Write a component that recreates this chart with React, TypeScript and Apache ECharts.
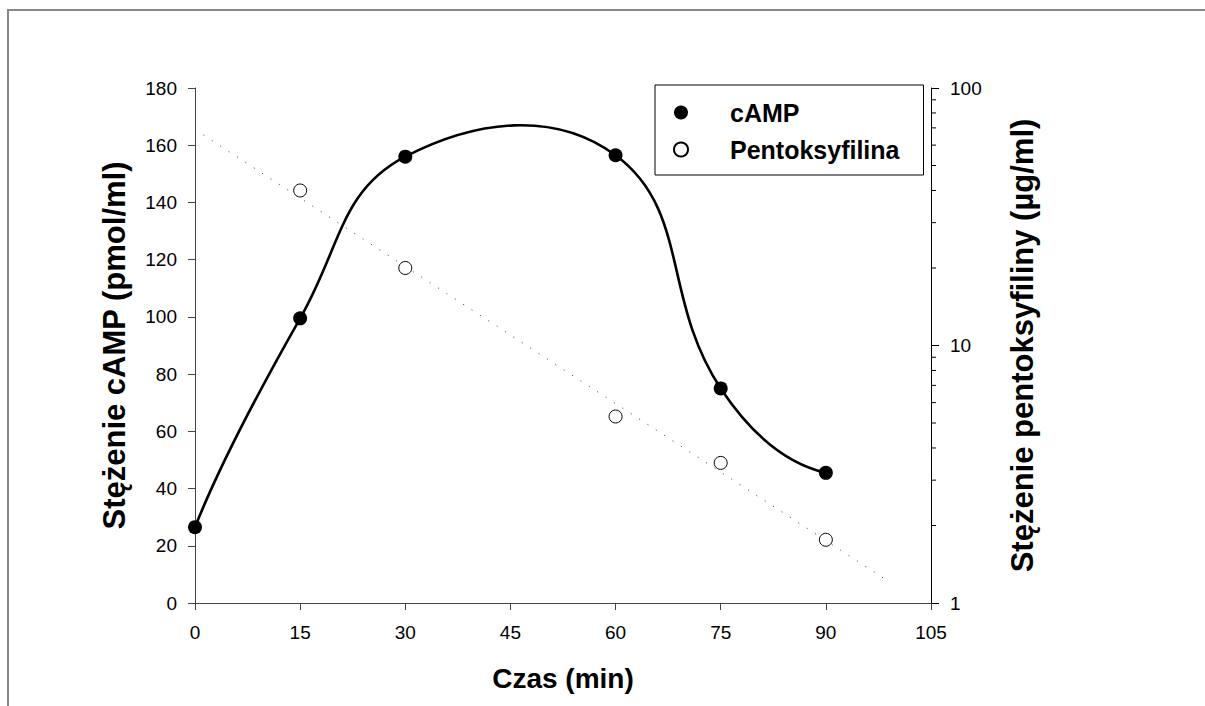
import React, { useEffect, useRef } from "react";
import * as echarts from "echarts";

const FONT = "'Liberation Sans', Arial, Helvetica, sans-serif";

// Time points (min)
const timeCAMP = [0, 15, 30, 60, 75, 90];
const valuesCAMP = [26.5, 99.5, 156, 156.5, 75, 45.5];

const timePTX = [15, 30, 60, 75, 90];
const valuesPTX = [40, 20, 5.3, 3.5, 1.76];

// Fitted (regression) line endpoints
const fitTime = [0, 99];
const fitValues = [69, 1.21];

const xTickInterval = 15;
const minorLogTicks = [2, 3, 4, 5, 6, 7, 8, 9, 20, 30, 40, 50, 60, 70, 80, 90];

const SMOOTH = 0.43;

// Smooth curve through pixel points (cardinal-like Bezier, quadratic end segments)
function splinePath(pts: number[][], s: number): string {
  const n = pts.length;
  const cps: number[][][] = pts.map((p, i) => {
    const prev = pts[i - 1] || p;
    const next = pts[i + 1] || p;
    const vx = next[0] - prev[0];
    const vy = next[1] - prev[1];
    const lp = Math.hypot(p[0] - prev[0], p[1] - prev[1]);
    const ln = Math.hypot(next[0] - p[0], next[1] - p[1]);
    const r = lp + ln > 0 ? ln / (lp + ln) : 0.5;
    return [
      [p[0] - vx * s * (1 - r), p[1] - vy * s * (1 - r)],
      [p[0] + vx * s * r, p[1] + vy * s * r],
    ];
  });
  if (n >= 3) {
    const p1 = pts[1];
    const c = cps[1][0];
    const q = [p1[0] + 1.5 * (c[0] - p1[0]), p1[1] + 1.5 * (c[1] - p1[1])];
    const p0 = pts[0];
    cps[0][1] = [p0[0] + (2 / 3) * (q[0] - p0[0]), p0[1] + (2 / 3) * (q[1] - p0[1])];
    const pa = pts[n - 2];
    const ca = cps[n - 2][1];
    const qa = [pa[0] + 1.5 * (ca[0] - pa[0]), pa[1] + 1.5 * (ca[1] - pa[1])];
    const pe = pts[n - 1];
    cps[n - 1][0] = [pe[0] + (2 / 3) * (qa[0] - pe[0]), pe[1] + (2 / 3) * (qa[1] - pe[1])];
  }
  let d = `M${pts[0][0]},${pts[0][1]}`;
  for (let i = 0; i < n - 1; i++) {
    const c1 = cps[i][1];
    const c2 = cps[i + 1][0];
    const p = pts[i + 1];
    d += ` C${c1[0]},${c1[1]} ${c2[0]},${c2[1]} ${p[0]},${p[1]}`;
  }
  return d;
}

export default function App() {
  const ref = useRef<HTMLDivElement>(null);

  useEffect(() => {
    if (!ref.current) return;
    const chart = echarts.init(ref.current, undefined, { renderer: "svg" });

    const option: any = {
      animation: false,
      backgroundColor: "#fff",
      textStyle: { fontFamily: FONT },
      grid: { left: 195, right: 274, top: 88, bottom: 103 },
      legend: {
        left: 655,
        top: 85,
        orient: "vertical",
        padding: [15, 24, 13, 18],
        itemGap: 12,
        itemWidth: 14,
        itemHeight: 14,
        borderColor: "#000",
        borderWidth: 1,
        backgroundColor: "#fff",
        formatter: "{t|{name}}",
        textStyle: {
          fontFamily: FONT,
          fontSize: 25,
          fontWeight: "bold",
          color: "#000",
          rich: {
            t: {
              fontFamily: FONT,
              fontSize: 25,
              fontWeight: "bold",
              color: "#000",
              lineHeight: 27,
              padding: [0, 0, 0, 37],
            },
          },
        },
        data: [
          { name: "cAMP", icon: "circle" },
          { name: "Pentoksyfilina", icon: "circle" },
        ],
      },
      xAxis: {
        type: "value",
        min: 0,
        max: 105,
        interval: xTickInterval,
        name: "Czas (min)",
        nameLocation: "middle",
        nameGap: 61,
        nameTextStyle: { fontFamily: FONT, fontSize: 28, fontWeight: "bold", color: "#000" },
        axisLine: { show: true, onZero: false, lineStyle: { color: "#444", width: 1 } },
        axisTick: { show: true, inside: false, length: 7, lineStyle: { color: "#444" } },
        axisLabel: { fontFamily: FONT, fontSize: 19, color: "#000", margin: 20 },
        splitLine: { show: false },
      },
      yAxis: [
        {
          type: "value",
          position: "left",
          min: 0,
          max: 180,
          interval: 20,
          name: "Stężenie cAMP (pmol/ml)",
          nameLocation: "middle",
          nameGap: 65,
          nameTextStyle: { fontFamily: FONT, fontSize: 31, fontWeight: "bold", color: "#000" },
          axisLine: { show: true, onZero: false, lineStyle: { color: "#444", width: 1 } },
          axisTick: { show: true, inside: false, length: 7, lineStyle: { color: "#444" } },
          axisLabel: { fontFamily: FONT, fontSize: 19, color: "#000", margin: 18 },
          splitLine: { show: false },
        },
        {
          type: "log",
          logBase: 10,
          position: "right",
          min: 1,
          max: 100,
          name: "Stężenie pentoksyfiliny (µg/ml)",
          nameLocation: "middle",
          nameGap: 76,
          nameTextStyle: { fontFamily: FONT, fontSize: 31, fontWeight: "bold", color: "#000" },
          axisLine: { show: true, onZero: false, lineStyle: { color: "#000", width: 1 } },
          axisTick: { show: true, inside: false, length: 8, lineStyle: { color: "#000" } },
          axisLabel: { fontFamily: FONT, fontSize: 19, color: "#000", margin: 19 },
          splitLine: { show: false },
        },
      ],
      series: [
        {
          name: "fit",
          type: "line",
          yAxisIndex: 1,
          data: fitTime.map((t, i) => [t, fitValues[i]]),
          symbol: "none",
          silent: true,
          z: 1,
          lineStyle: { color: "#555", width: 1, type: [1.2, 8.8] },
        },
        {
          name: "cAMPcurve",
          type: "custom",
          xAxisIndex: 0,
          yAxisIndex: 0,
          silent: true,
          z: 2,
          data: timeCAMP.map((t, i) => [t, valuesCAMP[i]]),
          renderItem: (params: any, api: any) => {
            if (params.dataIndex !== 0) return null;
            const pts = timeCAMP.map((t, i) => api.coord([t, valuesCAMP[i]]));
            return {
              type: "path",
              shape: { pathData: splinePath(pts, SMOOTH) },
              style: { stroke: "#000", lineWidth: 2.6, fill: "none" },
            };
          },
        },
        {
          name: "cAMP",
          type: "scatter",
          yAxisIndex: 0,
          data: timeCAMP.map((t, i) => [t, valuesCAMP[i]]),
          symbol: "circle",
          symbolSize: 14,
          z: 3,
          itemStyle: { color: "#000", opacity: 1 },
        },
        {
          name: "Pentoksyfilina",
          type: "scatter",
          yAxisIndex: 1,
          data: timePTX.map((t, i) => [t, valuesPTX[i]]),
          symbol: "circle",
          symbolSize: 13,
          z: 4,
          itemStyle: { color: "#fff", borderColor: "#000", borderWidth: 1, opacity: 1 },
        },
        {
          name: "minorTicks",
          type: "custom",
          xAxisIndex: 0,
          yAxisIndex: 1,
          silent: true,
          clip: false,
          data: minorLogTicks.map((v) => [105, v]),
          renderItem: (params: any, api: any) => {
            const p = api.coord([api.value(0), api.value(1)]);
            return {
              type: "line",
              shape: { x1: p[0], y1: p[1], x2: p[0] + 5, y2: p[1] },
              style: { stroke: "#000", lineWidth: 1 },
            };
          },
        },
      ],
      graphic: [
        {
          type: "polyline",
          shape: { points: [[8, 720], [8, 10], [1215, 10]] },
          style: { stroke: "#888", lineWidth: 2, fill: null },
          silent: true,
        },
      ],
    };

    chart.setOption(option);
    return () => chart.dispose();
  }, []);

  return (
    <div
      ref={ref}
      style={{ position: "fixed", left: 0, top: 0, width: 1205, height: 706, background: "#fff" }}
    />
  );
}
